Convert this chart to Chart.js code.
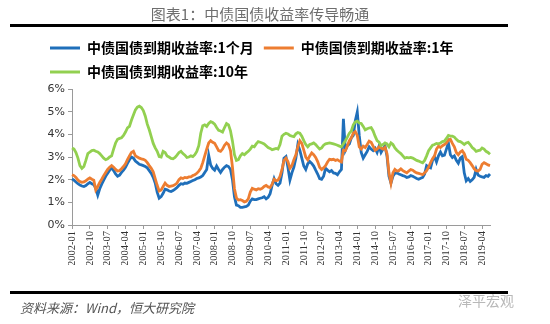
<!DOCTYPE html>
<html>
<head>
<meta charset="utf-8">
<script src="https://cdn.jsdelivr.net/npm/chart.js@4.4.1/dist/chart.umd.min.js"></script>
<style>
  body { margin: 0; background: #fff; }
</style>
</head>
<body>
<canvas id="yieldChart" width="550" height="324"></canvas>
<script>
// monthly axis, 2002-01 .. 2019-08
const startYear = 2002;
const monthCount = 212;
const labelStep = 9; // one tick label every 9 months

const months = [];
for (let i = 0; i < monthCount; i++) {
  const y = startYear + Math.floor(i / 12);
  const m = (i % 12) + 1;
  months.push(y + '-' + (m < 10 ? '0' + m : m));
}

const seriesNames = ['中债国债到期收益率:1个月', '中债国债到期收益率:1年', '中债国债到期收益率:10年'];

// yields in %, one row per year
const yield1m = [
  2.03, 1.98, 1.90, 1.82, 1.76, 1.72, 1.70, 1.74, 1.82, 1.88, 1.82, 1.78,
  1.62, 1.32, 1.60, 1.80, 1.98, 2.15, 2.28, 2.42, 2.52, 2.40, 2.25, 2.15,
  2.20, 2.32, 2.42, 2.55, 2.72, 2.88, 3.00, 2.95, 2.82, 2.75, 2.68, 2.65,
  2.62, 2.58, 2.52, 2.40, 2.28, 2.10, 1.85, 1.45, 1.18, 1.25, 1.40, 1.58,
  1.55, 1.50, 1.48, 1.52, 1.58, 1.65, 1.75, 1.82, 1.80, 1.85, 1.84, 1.88,
  1.92, 1.96, 2.00, 2.05, 2.08, 2.12, 2.18, 2.32, 2.45, 3.08, 2.65, 2.50,
  2.42, 2.60, 2.45, 2.32, 2.45, 2.55, 2.62, 2.58, 2.45, 2.00, 1.25, 0.88,
  0.85, 0.78, 0.78, 0.80, 0.82, 0.88, 1.05, 1.15, 1.12, 1.12, 1.15, 1.18,
  1.20, 1.25, 1.15, 1.22, 1.38, 1.75, 2.05, 1.82, 1.75, 1.85, 2.30, 2.95,
  3.02, 2.55, 1.98, 2.30, 2.55, 2.95, 3.55, 3.30, 2.95, 2.60, 2.45, 2.70,
  2.80, 2.72, 2.60, 2.42, 2.25, 2.05, 2.02, 2.15, 2.50, 2.42, 2.35, 2.40,
  2.30, 2.28, 2.22, 2.35, 2.45, 4.68, 3.30, 3.50, 3.58, 3.85, 3.95, 4.60,
  4.98, 3.95, 3.20, 2.95, 3.10, 3.25, 3.45, 3.35, 3.28, 3.38, 3.20, 3.48,
  3.20, 3.35, 3.48, 3.05, 2.15, 1.85, 2.15, 2.28, 2.30, 2.25, 2.22, 2.18,
  2.15, 2.10, 2.12, 2.18, 2.15, 2.10, 2.05, 2.02, 2.06, 2.10, 2.25, 2.62,
  2.55, 2.52, 2.85, 3.02, 2.78, 3.05, 3.22, 3.05, 3.08, 3.35, 3.62, 3.10,
  2.98, 3.05, 2.85, 2.72, 2.95, 3.02, 2.30, 1.95, 2.05, 1.92, 2.00, 2.10,
  2.45, 2.20, 2.15, 2.12, 2.10, 2.18, 2.15, 2.25
];

const yield1y = [
  2.22, 2.18, 2.10, 1.98, 1.92, 1.88, 1.90, 1.95, 2.02, 2.08, 2.02, 1.98,
  1.55, 1.70, 1.88, 2.02, 2.18, 2.32, 2.45, 2.55, 2.62, 2.55, 2.45, 2.38,
  2.40, 2.48, 2.58, 2.70, 2.88, 3.05, 3.20, 3.25, 3.05, 3.00, 2.95, 2.92,
  2.90, 2.85, 2.75, 2.62, 2.50, 2.35, 2.05, 1.75, 1.50, 1.55, 1.70, 1.85,
  1.75, 1.70, 1.72, 1.74, 1.78, 1.85, 2.00, 2.08, 2.05, 2.10, 2.08, 2.12,
  2.12, 2.18, 2.22, 2.28, 2.38, 2.50, 2.75, 3.05, 3.35, 3.62, 3.72, 3.65,
  3.60, 3.45, 3.28, 3.25, 3.35, 3.52, 3.62, 3.55, 3.28, 2.55, 1.60, 1.20,
  1.10, 1.12, 1.08, 1.02, 1.05, 1.15, 1.45, 1.62, 1.58, 1.55, 1.60, 1.58,
  1.62, 1.70, 1.75, 1.68, 1.65, 1.80, 2.02, 1.95, 1.98, 2.15, 2.45, 2.85,
  2.95, 2.80, 2.50, 2.62, 2.88, 3.10, 3.45, 3.72, 3.60, 3.30, 3.00, 2.88,
  3.05, 3.18, 3.10, 2.98, 2.80, 2.55, 2.45, 2.52, 2.62, 2.78, 2.90, 2.88,
  2.90, 2.85, 2.88, 2.82, 2.78, 3.30, 3.28, 3.50, 3.72, 3.85, 4.05, 4.12,
  3.95, 3.45, 3.35, 3.48, 3.42, 3.55, 3.70, 3.65, 3.48, 3.30, 3.35, 3.45,
  3.40, 3.35, 3.42, 3.15, 2.30, 1.85, 2.30, 2.45, 2.38, 2.40, 2.48, 2.40,
  2.35, 2.30, 2.38, 2.45, 2.42, 2.35, 2.30, 2.28, 2.25, 2.22, 2.30, 2.40,
  2.55, 2.75, 2.92, 3.05, 3.35, 3.48, 3.42, 3.50, 3.55, 3.62, 3.75, 3.78,
  3.60, 3.45, 3.20, 3.10, 3.22, 3.28, 3.15, 2.90, 2.85, 2.75, 2.62, 2.48,
  2.40, 2.38, 2.45, 2.68, 2.75, 2.70, 2.65, 2.62
];

const yield10y = [
  3.40, 3.35, 3.20, 2.95, 2.62, 2.50, 2.58, 2.85, 3.15, 3.22, 3.28, 3.30,
  3.25, 3.22, 3.15, 3.05, 2.95, 2.88, 2.92, 3.00, 3.05, 3.35, 3.62, 3.78,
  3.82, 3.85, 3.95, 4.10, 4.28, 4.35, 4.62, 4.85, 5.08, 5.20, 5.24, 5.18,
  5.05, 4.80, 4.45, 4.20, 3.90, 3.60, 3.40, 3.25, 3.02, 3.00, 3.25, 3.20,
  3.05, 3.00, 2.94, 2.92, 2.98, 3.08, 3.20, 3.25, 3.15, 3.08, 2.98, 3.00,
  3.05, 3.02, 3.10, 3.25, 3.50, 4.05, 4.38, 4.42, 4.35, 4.48, 4.56, 4.52,
  4.45, 4.30, 4.18, 4.15, 4.10, 4.30, 4.48, 4.42, 4.15, 3.70, 3.10, 2.85,
  2.88, 3.05, 3.15, 3.10, 3.18, 3.25, 3.35, 3.48, 3.45, 3.58, 3.68, 3.65,
  3.62, 3.58, 3.50, 3.42, 3.38, 3.32, 3.35, 3.38, 3.35, 3.55, 3.92, 4.00,
  4.05, 4.02, 3.95, 3.92, 3.90, 4.02, 4.08, 4.05, 3.92, 3.72, 3.55, 3.45,
  3.55, 3.58, 3.62, 3.55, 3.45, 3.35, 3.40, 3.52, 3.58, 3.60, 3.62, 3.60,
  3.58, 3.55, 3.52, 3.48, 3.45, 3.58, 3.72, 3.88, 4.05, 4.15, 4.42, 4.55,
  4.58, 4.50, 4.48, 4.35, 4.20, 4.25, 4.28, 4.30, 4.15, 3.92, 3.72, 3.65,
  3.50, 3.55, 3.62, 3.58, 3.45, 3.62, 3.55, 3.40, 3.30, 3.22, 3.15, 3.05,
  2.95, 2.98, 2.96, 2.98, 2.95, 2.90, 2.85, 2.82, 2.78, 2.74, 2.85, 3.05,
  3.28, 3.40, 3.52, 3.55, 3.60, 3.58, 3.62, 3.68, 3.70, 3.82, 3.95, 3.92,
  3.92, 3.88, 3.78, 3.70, 3.68, 3.62, 3.55, 3.62, 3.65, 3.55, 3.42, 3.35,
  3.25, 3.28, 3.30, 3.40, 3.35, 3.25, 3.20, 3.12
];

const yTicks = [0, 1, 2, 3, 4, 5, 6];
const colors = ['#1f6fba', '#ed7d31', '#92d050'];

const titleText = '图表1：中债国债收益率传导畅通';
const sourceText = '资料来源：Wind，恒大研究院';
const markText = '泽平宏观';

// title, black rules, source line
const framePlugin = {
  id: 'frame',
  afterDraw(chart) {
    const ctx = chart.ctx;
    ctx.save();
    ctx.fillStyle = '#6e6e6e';
    ctx.font = '15px "Noto Sans CJK SC"';
    ctx.textAlign = 'center';
    ctx.textBaseline = 'middle';
    ctx.fillText(titleText, 260, 14);

    ctx.fillStyle = '#000';
    ctx.fillRect(10, 24, 498, 3);
    ctx.fillRect(10, 291, 498, 3);

    ctx.textAlign = 'left';
    ctx.fillStyle = '#555';
    ctx.font = 'italic 13px "Noto Sans CJK SC"';
    ctx.fillText(sourceText, 20, 308);

    ctx.fillStyle = '#b8b8b8';
    ctx.font = '14px "Noto Sans CJK SC"';
    ctx.fillText(markText, 458, 301);
    ctx.restore();
  }
};

const datasets = [yield1m, yield1y, yield10y].map((vals, k) => ({
  label: seriesNames[k],
  data: vals,
  borderColor: colors[k],
  backgroundColor: colors[k],
  borderWidth: 2.8,
  pointRadius: 0,
  tension: 0,
  fill: false,
  order: 2 - k // 10年 drawn on top
}));

new Chart(document.getElementById('yieldChart'), {
  type: 'line',
  data: { labels: months, datasets: datasets },
  options: {
    responsive: false,
    devicePixelRatio: 1,
    animation: false,
    layout: { padding: { top: 31, left: 40, right: 60, bottom: 59 } },
    plugins: {
      legend: {
        position: 'top',
        align: 'start',
        labels: {
          boxWidth: 30,
          boxHeight: 3,
          padding: 10,
          color: '#000',
          font: { family: '"Noto Sans CJK SC"', size: 14, weight: 'bold' },
          sort: (a, b) => a.datasetIndex - b.datasetIndex,
          generateLabels(chart) {
            return Chart.defaults.plugins.legend.labels.generateLabels(chart)
              .map(item => Object.assign(item, { lineWidth: 0 }));
          }
        }
      },
      tooltip: { enabled: false }
    },
    scales: {
      x: {
        border: { color: '#9a9a9a', width: 1 },
        grid: {
          drawOnChartArea: false,
          tickLength: 4,
          color: c => (c.index % labelStep === 0 ? '#9a9a9a' : 'rgba(0,0,0,0)')
        },
        ticks: {
          autoSkip: false,
          minRotation: 90,
          maxRotation: 90,
          padding: 2,
          color: '#333',
          font: { family: '"Liberation Serif"', size: 10.5 },
          callback: (v, i) => (i % labelStep === 0 ? months[i] : '')
        },
        afterFit: s => { s.height = 40; }
      },
      y: {
        min: 0,
        max: 6,
        border: { color: '#9a9a9a', width: 1 },
        grid: { drawOnChartArea: false, tickLength: 4, color: '#9a9a9a' },
        afterBuildTicks: s => { s.ticks = yTicks.map(v => ({ value: v })); },
        ticks: {
          padding: 3,
          color: '#333',
          font: { family: '"DejaVu Sans"', size: 11 },
          callback: v => v + '%'
        },
        afterFit: s => { s.width = 32; }
      }
    }
  },
  plugins: [framePlugin]
});
</script>
</body>
</html>
